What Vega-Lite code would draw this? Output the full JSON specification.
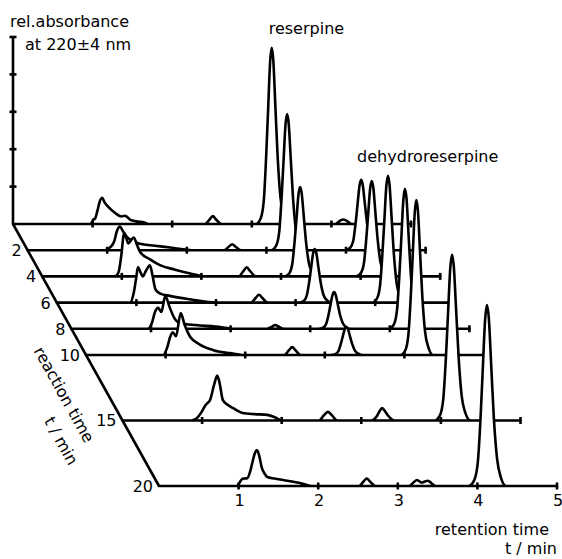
{
"$schema":"https://vega.github.io/schema/vega-lite/v6.json",
"width":562,"height":559,"autosize":{"type":"none"},"padding":0,"background":"white",
"config":{"view":{"stroke":null},"text":{"font":"DejaVu Sans","fontSize":16,"color":"black"}},
"datasets":{"traces":[
{"t":0,"tk":[1,2,3,4,5],"rt":[0,0.97,0.99,1.01,1.03,1.06,1.09,1.12,1.15,1.2,1.28,1.36,1.4,1.43,1.47,1.55,1.65,1.7,2.41,2.47,2.51,2.55,2.62,3.05,3.11,3.15,3.18,3.205,3.23,3.25,3.27,3.295,3.325,3.36,3.4,3.46,4.05,4.11,4.15,4.19,4.26,5],
"a":[0,0,0.04,0.12,0.14,0.35,0.6,0.7,0.58,0.45,0.3,0.2,0.22,0.2,0.12,0.07,0.04,0,0,0.12,0.21,0.12,0,0,0.14,0.61,1.79,3.06,4.33,4.71,4.38,3.2,1.79,0.71,0.24,0,0,0.09,0.12,0.09,0,0]},
{"t":2,"tk":[1,2,3,4,5],"rt":[0,0.96,0.97,1.04,1.09,1.12,1.16,1.2,1.25,1.32,1.41,1.6,1.79,1.98,2.1,2.47,2.53,2.57,2.61,2.68,3.06,3.12,3.16,3.19,3.215,3.24,3.26,3.28,3.305,3.335,3.37,3.41,3.47,3.99,4.05,4.09,4.12,4.145,4.17,4.19,4.21,4.235,4.265,4.3,4.34,4.4,5],
"a":[0,0,0,0.08,0.25,0.5,0.63,0.5,0.35,0.25,0.17,0.12,0.07,0.02,0,0,0.1,0.16,0.1,0,0,0.11,0.47,1.38,2.37,3.35,3.64,3.39,2.48,1.38,0.55,0.18,0,0,0.06,0.24,0.71,1.22,1.73,1.88,1.75,1.28,0.71,0.28,0.09,0,0]},
{"t":4,"tk":[1,2,3,4,5],"rt":[0,0.9,0.91,0.96,0.99,1.03,1.06,1.08,1.11,1.15,1.19,1.23,1.36,1.48,1.67,1.86,2.05,2.47,2.53,2.57,2.61,2.68,3.04,3.1,3.14,3.17,3.195,3.22,3.24,3.26,3.285,3.315,3.35,3.39,3.45,3.94,4,4.04,4.07,4.095,4.12,4.14,4.16,4.185,4.215,4.25,4.29,4.35,5],
"a":[0,0,0,0.12,0.5,1.15,1.0,0.88,0.95,1.04,0.85,0.65,0.45,0.3,0.18,0.08,0,0,0.15,0.24,0.15,0,0,0.07,0.31,0.91,1.55,2.2,2.39,2.22,1.63,0.91,0.36,0.12,0,0,0.08,0.33,0.97,1.66,2.35,2.55,2.37,1.73,0.97,0.38,0.13,0,0]},
{"t":6,"tk":[1,2,3,4,5],"rt":[0,0.91,0.92,0.97,1,1.02,1.05,1.08,1.12,1.17,1.2,1.24,1.3,1.42,1.67,2.01,2.44,2.5,2.54,2.58,2.65,3.04,3.1,3.14,3.17,3.195,3.22,3.24,3.26,3.285,3.315,3.35,3.39,3.45,3.96,4.02,4.06,4.09,4.115,4.14,4.16,4.18,4.205,4.235,4.27,4.31,4.37,5],
"a":[0,0,0,0.3,0.7,0.95,0.82,0.7,0.85,1.0,0.75,0.35,0.24,0.18,0.09,0,0,0.13,0.21,0.13,0,0,0.04,0.19,0.54,0.93,1.32,1.43,1.33,0.97,0.54,0.21,0.07,0,0,0.1,0.44,1.29,2.2,3.12,3.39,3.15,2.31,1.29,0.51,0.17,0,0]},
{"t":8,"tk":[1,2,3,4,5],"rt":[0,0.95,0.96,1.01,1.05,1.09,1.13,1.18,1.23,1.29,1.37,1.56,1.81,2.06,2.46,2.52,2.56,2.6,2.67,3.1,3.16,3.2,3.23,3.255,3.28,3.3,3.32,3.345,3.375,3.41,3.45,3.51,3.99,4.05,4.09,4.12,4.145,4.17,4.19,4.21,4.235,4.265,4.3,4.34,4.4,5],
"a":[0,0,0,0.15,0.45,0.56,0.45,0.88,0.6,0.3,0.15,0.1,0.06,0,0,0.06,0.1,0.06,0,0,0.03,0.13,0.37,0.64,0.9,0.98,0.91,0.67,0.37,0.15,0.05,0,0,0.11,0.49,1.42,2.43,3.44,3.74,3.48,2.54,1.42,0.56,0.19,0,0]},
{"t":10,"tk":[1,2,3,4,5],"rt":[0,0.96,0.97,1.02,1.06,1.09,1.13,1.19,1.24,1.31,1.43,1.6,1.81,1.97,2.49,2.55,2.59,2.63,2.7,3.07,3.13,3.17,3.2,3.225,3.25,3.27,3.29,3.315,3.345,3.38,3.42,3.48,3.95,4.01,4.05,4.08,4.105,4.13,4.15,4.17,4.195,4.225,4.26,4.3,4.36,5],
"a":[0,0,0,0.2,0.5,0.61,0.5,1.12,0.8,0.48,0.28,0.13,0.05,0,0,0.13,0.21,0.13,0,0,0.02,0.1,0.29,0.49,0.69,0.75,0.7,0.51,0.29,0.11,0.04,0,0,0.12,0.54,1.57,2.69,3.81,4.14,3.85,2.82,1.57,0.62,0.21,0,0]},
{"t":15,"tk":[1,2,3,4,5],"rt":[0,0.86,0.87,0.95,1,1.04,1.07,1.1,1.15,1.19,1.22,1.26,1.32,1.39,1.51,1.66,1.82,1.92,2,2.47,2.53,2.58,2.63,2.7,3.13,3.19,3.23,3.26,3.29,3.34,3.42,3.92,3.986,4.03,4.063,4.09,4.118,4.14,4.162,4.19,4.223,4.261,4.305,4.371,5],
"a":[0,0,0,0.1,0.25,0.4,0.47,0.55,0.95,1.2,1.0,0.55,0.42,0.33,0.2,0.17,0.15,0.08,0,0,0.14,0.23,0.14,0,0,0.1,0.25,0.33,0.27,0.12,0,0,0.13,0.58,1.68,2.88,4.08,4.43,4.12,3.01,1.68,0.66,0.22,0,0]},
{"t":20,"tk":[1,2,3,4,5],"rt":[0,0.97,0.98,1.01,1.04,1.07,1.11,1.14,1.17,1.2,1.23,1.26,1.29,1.33,1.36,1.45,1.56,1.67,1.77,1.92,2.51,2.57,2.61,2.65,2.72,3.14,3.2,3.24,3.3,3.34,3.38,3.42,3.48,3.89,3.959,4.005,4.04,4.068,4.097,4.12,4.143,4.172,4.206,4.247,4.293,4.362,5],
"a":[0,0,0,0.08,0.18,0.2,0.21,0.35,0.6,0.85,0.96,0.8,0.5,0.32,0.24,0.2,0.16,0.12,0.08,0,0,0.12,0.2,0.12,0,0,0.1,0.16,0.09,0.12,0.14,0.08,0,0,0.15,0.63,1.84,3.15,4.45,4.84,4.5,3.29,1.84,0.73,0.24,0,0]}
]},
"encoding":{
"x":{"field":"px","type":"quantitative","scale":{"domain":[-0.163317,6.896985],"nice":false,"zero":false},"axis":null},
"y":{"field":"py","type":"quantitative","stack":null,"scale":{"domain":[-8.957219,5.989305],"nice":false,"zero":false},"axis":null}
},
"layer":[
{"data":{"values":[{"t":0,"rt":0,"a":0},{"t":0,"rt":0,"a":5}]},"transform":[{"calculate":"datum.rt+0.091709*datum.t","as":"px"},{"calculate":"datum.a-0.350267*datum.t","as":"py"}],"mark":{"type":"line","color":"black","strokeWidth":2.6},"encoding":{"order":{"field":"a","type":"quantitative"}}},
{"data":{"values":[{"t":0,"rt":0,"a":1},{"t":0,"rt":0,"a":2},{"t":0,"rt":0,"a":3},{"t":0,"rt":0,"a":4},{"t":0,"rt":0,"a":5}]},"transform":[{"calculate":"datum.rt+0.091709*datum.t","as":"px"},{"calculate":"datum.a-0.350267*datum.t","as":"py"}],"mark":{"type":"point","shape":"M-1,0L1,0","size":49,"filled":false,"stroke":"black","strokeWidth":2.6,"opacity":1},"encoding":{}},
{"data":{"name":"traces"},"transform":[{"filter":"datum.t==0"},{"flatten":["rt","a"]},{"calculate":"datum.rt+0.091709*datum.t","as":"px"},{"calculate":"datum.a-0.350267*datum.t","as":"py"},{"calculate":"-0.350267*datum.t","as":"pb"}],"mark":{"type":"area","fill":"white","stroke":"black","strokeWidth":2.6,"strokeJoin":"round","interpolate":"monotone"},"encoding":{"y2":{"field":"pb"}}},
{"data":{"name":"traces"},"transform":[{"filter":"datum.t==0"},{"flatten":["tk"]},{"calculate":"datum.tk+0.091709*datum.t","as":"px"},{"calculate":"-0.350267*datum.t","as":"py"}],"mark":{"type":"point","shape":"M0,-1L0,1","size":49,"filled":false,"stroke":"black","strokeWidth":2.6,"opacity":1},"encoding":{}},
{"data":{"name":"traces"},"transform":[{"filter":"datum.t==2"},{"flatten":["rt","a"]},{"calculate":"datum.rt+0.091709*datum.t","as":"px"},{"calculate":"datum.a-0.350267*datum.t","as":"py"},{"calculate":"-0.350267*datum.t","as":"pb"}],"mark":{"type":"area","fill":"white","stroke":"black","strokeWidth":2.6,"strokeJoin":"round","interpolate":"monotone"},"encoding":{"y2":{"field":"pb"}}},
{"data":{"name":"traces"},"transform":[{"filter":"datum.t==2"},{"flatten":["tk"]},{"calculate":"datum.tk+0.091709*datum.t","as":"px"},{"calculate":"-0.350267*datum.t","as":"py"}],"mark":{"type":"point","shape":"M0,-1L0,1","size":49,"filled":false,"stroke":"black","strokeWidth":2.6,"opacity":1},"encoding":{}},
{"data":{"name":"traces"},"transform":[{"filter":"datum.t==4"},{"flatten":["rt","a"]},{"calculate":"datum.rt+0.091709*datum.t","as":"px"},{"calculate":"datum.a-0.350267*datum.t","as":"py"},{"calculate":"-0.350267*datum.t","as":"pb"}],"mark":{"type":"area","fill":"white","stroke":"black","strokeWidth":2.6,"strokeJoin":"round","interpolate":"monotone"},"encoding":{"y2":{"field":"pb"}}},
{"data":{"name":"traces"},"transform":[{"filter":"datum.t==4"},{"flatten":["tk"]},{"calculate":"datum.tk+0.091709*datum.t","as":"px"},{"calculate":"-0.350267*datum.t","as":"py"}],"mark":{"type":"point","shape":"M0,-1L0,1","size":49,"filled":false,"stroke":"black","strokeWidth":2.6,"opacity":1},"encoding":{}},
{"data":{"name":"traces"},"transform":[{"filter":"datum.t==6"},{"flatten":["rt","a"]},{"calculate":"datum.rt+0.091709*datum.t","as":"px"},{"calculate":"datum.a-0.350267*datum.t","as":"py"},{"calculate":"-0.350267*datum.t","as":"pb"}],"mark":{"type":"area","fill":"white","stroke":"black","strokeWidth":2.6,"strokeJoin":"round","interpolate":"monotone"},"encoding":{"y2":{"field":"pb"}}},
{"data":{"name":"traces"},"transform":[{"filter":"datum.t==6"},{"flatten":["tk"]},{"calculate":"datum.tk+0.091709*datum.t","as":"px"},{"calculate":"-0.350267*datum.t","as":"py"}],"mark":{"type":"point","shape":"M0,-1L0,1","size":49,"filled":false,"stroke":"black","strokeWidth":2.6,"opacity":1},"encoding":{}},
{"data":{"name":"traces"},"transform":[{"filter":"datum.t==8"},{"flatten":["rt","a"]},{"calculate":"datum.rt+0.091709*datum.t","as":"px"},{"calculate":"datum.a-0.350267*datum.t","as":"py"},{"calculate":"-0.350267*datum.t","as":"pb"}],"mark":{"type":"area","fill":"white","stroke":"black","strokeWidth":2.6,"strokeJoin":"round","interpolate":"monotone"},"encoding":{"y2":{"field":"pb"}}},
{"data":{"name":"traces"},"transform":[{"filter":"datum.t==8"},{"flatten":["tk"]},{"calculate":"datum.tk+0.091709*datum.t","as":"px"},{"calculate":"-0.350267*datum.t","as":"py"}],"mark":{"type":"point","shape":"M0,-1L0,1","size":49,"filled":false,"stroke":"black","strokeWidth":2.6,"opacity":1},"encoding":{}},
{"data":{"name":"traces"},"transform":[{"filter":"datum.t==10"},{"flatten":["rt","a"]},{"calculate":"datum.rt+0.091709*datum.t","as":"px"},{"calculate":"datum.a-0.350267*datum.t","as":"py"},{"calculate":"-0.350267*datum.t","as":"pb"}],"mark":{"type":"area","fill":"white","stroke":"black","strokeWidth":2.6,"strokeJoin":"round","interpolate":"monotone"},"encoding":{"y2":{"field":"pb"}}},
{"data":{"name":"traces"},"transform":[{"filter":"datum.t==10"},{"flatten":["tk"]},{"calculate":"datum.tk+0.091709*datum.t","as":"px"},{"calculate":"-0.350267*datum.t","as":"py"}],"mark":{"type":"point","shape":"M0,-1L0,1","size":49,"filled":false,"stroke":"black","strokeWidth":2.6,"opacity":1},"encoding":{}},
{"data":{"name":"traces"},"transform":[{"filter":"datum.t==15"},{"flatten":["rt","a"]},{"calculate":"datum.rt+0.091709*datum.t","as":"px"},{"calculate":"datum.a-0.350267*datum.t","as":"py"},{"calculate":"-0.350267*datum.t","as":"pb"}],"mark":{"type":"area","fill":"white","stroke":"black","strokeWidth":2.6,"strokeJoin":"round","interpolate":"monotone"},"encoding":{"y2":{"field":"pb"}}},
{"data":{"name":"traces"},"transform":[{"filter":"datum.t==15"},{"flatten":["tk"]},{"calculate":"datum.tk+0.091709*datum.t","as":"px"},{"calculate":"-0.350267*datum.t","as":"py"}],"mark":{"type":"point","shape":"M0,-1L0,1","size":49,"filled":false,"stroke":"black","strokeWidth":2.6,"opacity":1},"encoding":{}},
{"data":{"name":"traces"},"transform":[{"filter":"datum.t==20"},{"flatten":["rt","a"]},{"calculate":"datum.rt+0.091709*datum.t","as":"px"},{"calculate":"datum.a-0.350267*datum.t","as":"py"},{"calculate":"-0.350267*datum.t","as":"pb"}],"mark":{"type":"area","fill":"white","stroke":"black","strokeWidth":2.6,"strokeJoin":"round","interpolate":"monotone"},"encoding":{"y2":{"field":"pb"}}},
{"data":{"name":"traces"},"transform":[{"filter":"datum.t==20"},{"flatten":["tk"]},{"calculate":"datum.tk+0.091709*datum.t","as":"px"},{"calculate":"-0.350267*datum.t","as":"py"}],"mark":{"type":"point","shape":"M0,-1L0,1","size":49,"filled":false,"stroke":"black","strokeWidth":2.6,"opacity":1},"encoding":{}},
{"data":{"values":[{"t":0,"rt":0,"a":0},{"t":20,"rt":0,"a":0}]},"transform":[{"calculate":"datum.rt+0.091709*datum.t","as":"px"},{"calculate":"datum.a-0.350267*datum.t","as":"py"}],"mark":{"type":"line","color":"black","strokeWidth":2.6},"encoding":{}},
{"data":{"values":[{"t":20,"rt":1,"a":0,"label":"1"},{"t":20,"rt":2,"a":0,"label":"2"},{"t":20,"rt":3,"a":0,"label":"3"},{"t":20,"rt":4,"a":0,"label":"4"},{"t":20,"rt":5,"a":0,"label":"5"}]},"transform":[{"calculate":"datum.rt+0.091709*datum.t","as":"px"},{"calculate":"datum.a-0.350267*datum.t","as":"py"}],"mark":{"type":"text","align":"center","baseline":"middle","dx":1,"dy":15},"encoding":{"text":{"field":"label"}}},
{"data":{"values":[{"t":2,"rt":0,"a":0,"label":"2"},{"t":4,"rt":0,"a":0,"label":"4"},{"t":6,"rt":0,"a":0,"label":"6"},{"t":8,"rt":0,"a":0,"label":"8"},{"t":10,"rt":0,"a":0,"label":"10"},{"t":15,"rt":0,"a":0,"label":"15"},{"t":20,"rt":0,"a":0,"label":"20"}]},"transform":[{"calculate":"datum.rt+0.091709*datum.t","as":"px"},{"calculate":"datum.a-0.350267*datum.t","as":"py"}],"mark":{"type":"text","align":"right","baseline":"middle","dx":-6,"dy":1},"encoding":{"text":{"field":"label"}}},
{"data":{"values":[{"t":0,"rt":0,"a":5,"label":"rel.absorbance"}]},"transform":[{"calculate":"datum.rt+0.091709*datum.t","as":"px"},{"calculate":"datum.a-0.350267*datum.t","as":"py"}],"mark":{"type":"text","align":"left","baseline":"alphabetic","dx":-3,"dy":-10},"encoding":{"text":{"field":"label"}}},
{"data":{"values":[{"t":0,"rt":0,"a":5,"label":"at 220±4 nm"}]},"transform":[{"calculate":"datum.rt+0.091709*datum.t","as":"px"},{"calculate":"datum.a-0.350267*datum.t","as":"py"}],"mark":{"type":"text","align":"left","baseline":"alphabetic","dx":12,"dy":13},"encoding":{"text":{"field":"label"}}},
{"data":{"values":[{"t":0,"rt":3.25,"a":4.71,"label":"reserpine"}]},"transform":[{"calculate":"datum.rt+0.091709*datum.t","as":"px"},{"calculate":"datum.a-0.350267*datum.t","as":"py"}],"mark":{"type":"text","align":"left","baseline":"alphabetic","dx":-3,"dy":-14},"encoding":{"text":{"field":"label"}}},
{"data":{"values":[{"t":2,"rt":4.19,"a":1.88,"label":"dehydroreserpine"}]},"transform":[{"calculate":"datum.rt+0.091709*datum.t","as":"px"},{"calculate":"datum.a-0.350267*datum.t","as":"py"}],"mark":{"type":"text","align":"left","baseline":"alphabetic","dx":-4,"dy":-18},"encoding":{"text":{"field":"label"}}},
{"data":{"values":[{"t":20,"rt":5,"a":0,"label":"retention time"}]},"transform":[{"calculate":"datum.rt+0.091709*datum.t","as":"px"},{"calculate":"datum.a-0.350267*datum.t","as":"py"}],"mark":{"type":"text","align":"right","baseline":"alphabetic","dx":-8,"dy":49},"encoding":{"text":{"field":"label"}}},
{"data":{"values":[{"t":20,"rt":5,"a":0,"label":"t / min"}]},"transform":[{"calculate":"datum.rt+0.091709*datum.t","as":"px"},{"calculate":"datum.a-0.350267*datum.t","as":"py"}],"mark":{"type":"text","align":"right","baseline":"alphabetic","dx":0,"dy":68},"encoding":{"text":{"field":"label"}}},
{"data":{"values":[{"t":11.6,"rt":0,"a":0,"label":"reaction time"}]},"transform":[{"calculate":"datum.rt+0.091709*datum.t","as":"px"},{"calculate":"datum.a-0.350267*datum.t","as":"py"}],"mark":{"type":"text","align":"center","baseline":"middle","angle":61,"dx":0,"dy":39},"encoding":{"text":{"field":"label"}}},
{"data":{"values":[{"t":11.6,"rt":0,"a":0,"label":"t / min"}]},"transform":[{"calculate":"datum.rt+0.091709*datum.t","as":"px"},{"calculate":"datum.a-0.350267*datum.t","as":"py"}],"mark":{"type":"text","align":"center","baseline":"middle","angle":61,"dx":39,"dy":64},"encoding":{"text":{"field":"label"}}}
]
}
